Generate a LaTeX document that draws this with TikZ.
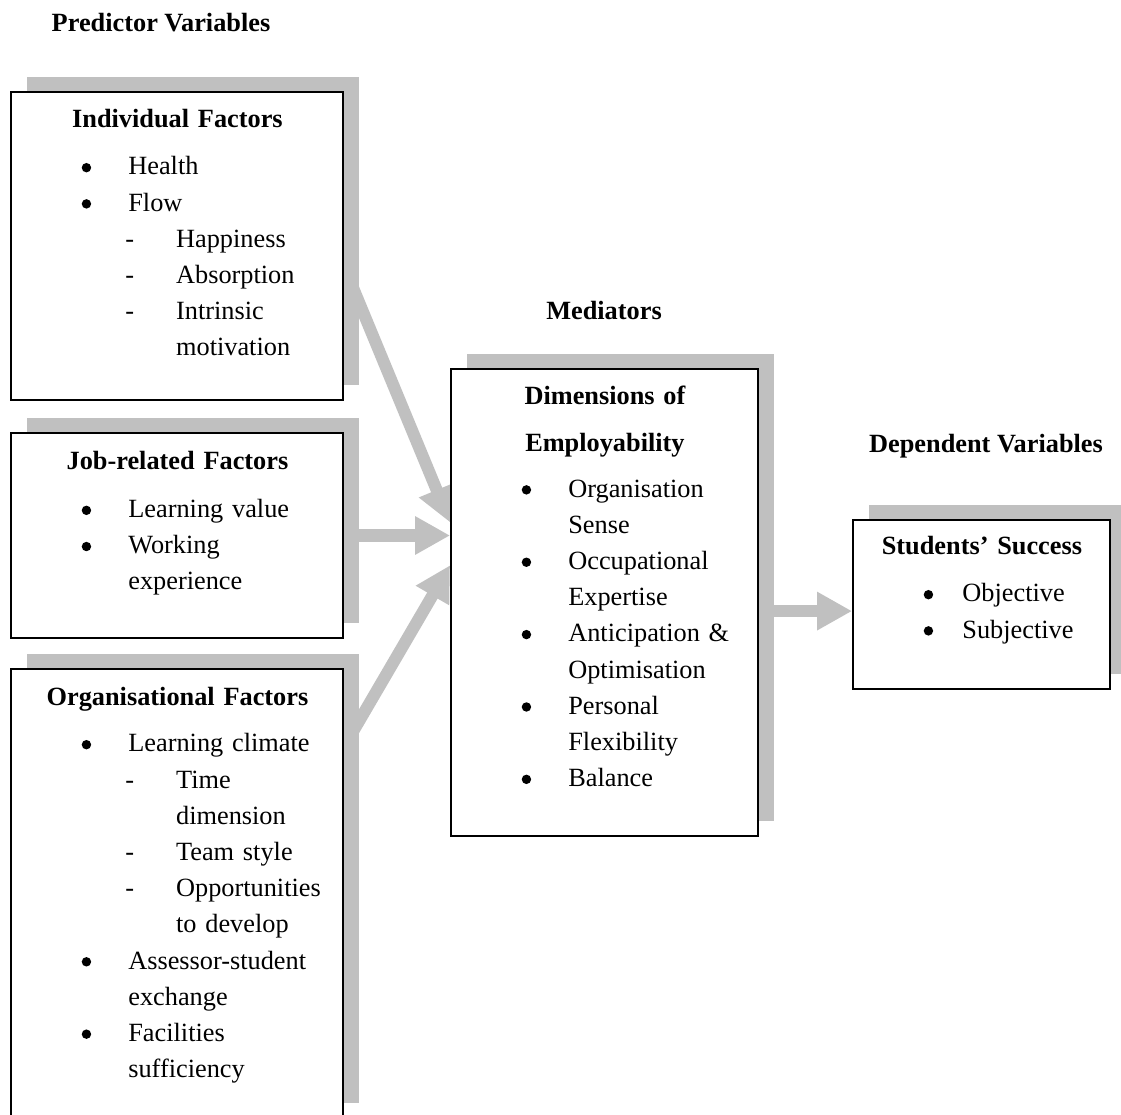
\documentclass[tikz,border=0pt]{standalone}
\usepackage{fontspec}
\setmainfont{Liberation Serif}
\usepackage{tikz}
\usetikzlibrary{arrows.meta,positioning,shadows,backgrounds}
\definecolor{shade}{HTML}{C0C0C0}
\newlength{\bulx}\setlength{\bulx}{34.2pt}
\newlength{\itmx}\setlength{\itmx}{53.3pt}
\newlength{\dashx}\setlength{\dashx}{54.0pt}
\newlength{\subx}\setlength{\subx}{75.1pt}
\newcommand{\bigbul}{\tikz[baseline=0pt]\fill[black] (0pt,3.3pt) circle[radius=2.15pt];}
\newcommand{\btitle}[1]{\makebox[\linewidth]{\bfseries #1}}
\newcommand{\bitem}[1]{\hspace*{\bulx}\makebox[0pt]{\bigbul}\hspace*{\dimexpr\itmx-\bulx\relax}#1}
\newcommand{\bcont}[1]{\hspace*{\itmx}#1}
\newcommand{\ditem}[1]{\hspace*{\dashx}\makebox[0pt]{-}\hspace*{\dimexpr\subx-\dashx\relax}#1}
\newcommand{\dcont}[1]{\hspace*{\subx}#1}
\tikzset{
  factorbox/.style ={draw=black, fill=white, line width=0.8pt, inner sep=0pt,
                     general shadow={fill=shade, shadow xshift=7.5pt, shadow yshift=7pt}},
  listtext/.style  ={inner sep=0pt, align=left, anchor=base west,
                     font=\fontsize{12}{16.5}\selectfont},
  headtext/.style  ={anchor=base, inner sep=0pt, font=\fontsize{12}{14}\selectfont\bfseries},
  flowarr/.style   ={-{Triangle[length=16pt,width=16.5pt]}, line width=5.5pt, draw=shade},
}
\begin{document}
\begin{tikzpicture}[x=0.456pt,y=-0.456pt]
    \path[use as bounding box, clip] (0,0) rectangle (1121,1115);

    \node[headtext] (predhead) at (161,32)  {Predictor Variables};
    \node[headtext] (medhead)  at (604,320) {Mediators};
    \node[headtext] (dephead)  at (986,453) {Dependent Variables};

    \node[factorbox,minimum width=151.4pt,minimum height=140.4pt] (indiv)   at (177,246)   {};
    \node[factorbox,minimum width=151.4pt,minimum height=93.5pt]  (job)     at (177,535.5) {};
    \node[factorbox,minimum width=151.4pt,minimum height=204.7pt] (org)     at (177,893.5) {};
    \node[factorbox,minimum width=140pt,minimum height=213pt]     (med)     at (604.5,602.5) {};
    \node[factorbox,minimum width=117.2pt,minimum height=77.1pt]  (success) at (981.5,604.5) {};

    \node[listtext,text width=151.4pt] (indivtxt) at (11,128) {\btitle{Individual Factors}\\[4.9pt]
      \bitem{Health}\\ \bitem{Flow}\\ \ditem{Happiness}\\ \ditem{Absorption}\\
      \ditem{Intrinsic}\\ \dcont{motivation}};
    \node[listtext,text width=151.4pt] (jobtxt) at (11,470) {\btitle{Job-related Factors}\\[5.2pt]
      \bitem{Learning value}\\ \bitem{Working}\\ \bcont{experience}};
    \node[listtext,text width=151.4pt] (orgtxt) at (11,705) {\btitle{Organisational Factors}\\[4.9pt]
      \bitem{Learning climate}\\ \ditem{Time}\\ \dcont{dimension}\\ \ditem{Team style}\\
      \ditem{Opportunities}\\ \dcont{to develop}\\ \bitem{Assessor-student}\\ \bcont{exchange}\\
      \bitem{Facilities}\\ \bcont{sufficiency}};
    \node[listtext,text width=140pt] (medtxt) at (451,405) {\btitle{Dimensions of}\\[4.5pt]
      \btitle{Employability}\\[4.5pt]
      \bitem{Organisation}\\ \bcont{Sense}\\ \bitem{Occupational}\\ \bcont{Expertise}\\
      \bitem{Anticipation \&}\\ \bcont{Optimisation}\\ \bitem{Personal}\\ \bcont{Flexibility}\\
      \bitem{Balance}};
    \node[listtext,text width=117.2pt,execute at begin node={\setlength{\itmx}{49.7pt}}]
      (successtxt) at (853,555) {\btitle{Students' Success}\\[4.9pt]
      \bitem{Objective}\\ \bitem{Subjective}};

    \begin{scope}[on background layer]
      \draw[flowarr] ([yshift=-9pt]indiv.east) -- ([yshift=36.5pt]med.west);
      \draw[flowarr] (job.east) -- (job.east -| med.west);
      \draw[flowarr] ([yshift=-36pt]org.north east) -- ([yshift=17pt]med.west);
      \draw[flowarr] ([yshift=-3pt]success.west -| med.east) -- ([yshift=-3pt]success.west);
    \end{scope}
\end{tikzpicture}
\end{document}
